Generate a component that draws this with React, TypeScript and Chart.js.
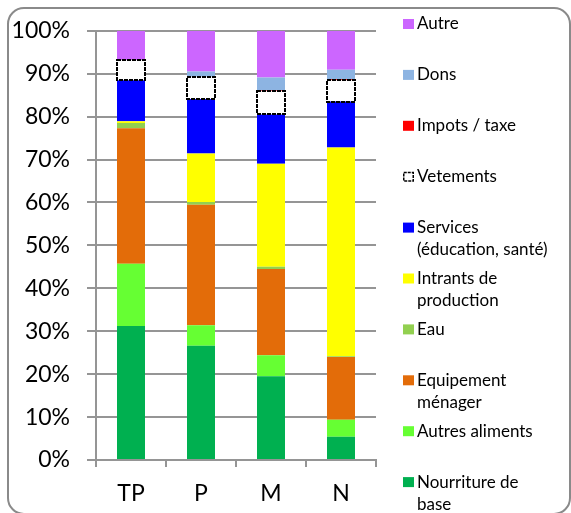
import React, { useEffect, useRef } from "react";
import { Chart, registerables } from "chart.js";

Chart.register(...registerables);

const categories = ["TP", "P", "M", "N"];
const yTicks = [0, 10, 20, 30, 40, 50, 60, 70, 80, 90, 100];

const nourritureDeBase = [31.2, 26.6, 19.5, 5.4];
const autresAliments = [14.5, 4.8, 4.9, 4.0];
const equipementMenager = [31.6, 28.1, 20.1, 14.6];
const eau = [1.2, 0.6, 0.5, 0.2];
const intrantsDeProduction = [0.4, 11.3, 24.0, 48.6];
const services = [9.6, 12.7, 11.5, 10.7];
const vetements = [4.7, 5.2, 5.4, 5.0];
const impotsTaxe = [0, 0, 0.2, 0.2];
const dons = [0, 1.2, 3.0, 2.2];
const autre = [6.8, 9.5, 10.9, 9.1];

const seriesDefs = [
  { label: ["Nourriture de", "base"], data: nourritureDeBase, color: "#00B050" },
  { label: ["Autres aliments"], data: autresAliments, color: "#66FF33" },
  { label: ["Equipement", "ménager"], data: equipementMenager, color: "#E36C09" },
  { label: ["Eau"], data: eau, color: "#92D050" },
  { label: ["Intrants de", "production"], data: intrantsDeProduction, color: "#FFFF00" },
  { label: ["Services", "(éducation, santé)"], data: services, color: "#0000FF" },
  { label: ["Vetements"], data: vetements, color: "#FFFFFF", outline: true },
  { label: ["Impots / taxe"], data: impotsTaxe, color: "#FF0000" },
  { label: ["Dons"], data: dons, color: "#8DB4E2" },
  { label: ["Autre"], data: autre, color: "#CC66FF" },
];

const GRID = "#959595";
const FONT = "Lato";

const frameAndLegend = {
  id: "frameAndLegend",
  beforeDraw(chart: any) {
    const ctx = chart.ctx;
    ctx.save();
    ctx.fillStyle = "#ffffff";
    ctx.fillRect(0, 0, chart.width, chart.height);
    ctx.restore();
  },
  afterDatasetsDraw(chart: any) {
    const ctx = chart.ctx;
    chart.data.datasets.forEach((ds: any, i: number) => {
      if (!ds._outline) return;
      const meta = chart.getDatasetMeta(i);
      meta.data.forEach((bar: any, j: number) => {
        if (!ds.data[j]) return;
        const p = bar.getProps(["x", "y", "base", "width"], true);
        const l = Math.round(p.x - p.width / 2);
        const r = Math.round(p.x + p.width / 2);
        const top = Math.round(Math.min(p.y, p.base));
        const bot = Math.round(Math.max(p.y, p.base));
        ctx.save();
        ctx.strokeStyle = "#000000";
        ctx.lineWidth = 2;
        ctx.setLineDash([4, 1]);
        ctx.strokeRect(l, top, r - l, bot - top);
        ctx.restore();
      });
    });
  },
  afterDraw(chart: any) {
    const ctx = chart.ctx;
    const area = chart.chartArea;
    ctx.save();
    const x0 = area.right + 27;
    const y0 = 24;
    const pitch = 50.9;
    const lineH = 22;
    ctx.font = `17px ${FONT}`;
    ctx.textBaseline = "middle";
    ctx.textAlign = "left";
    const items = chart.data.datasets.slice().reverse();
    items.forEach((ds: any, k: number) => {
      const cy = y0 + k * pitch;
      if (ds._outline) {
        ctx.fillStyle = "#ffffff";
        ctx.fillRect(x0, cy - 5, 11, 10);
        ctx.strokeStyle = "#000";
        ctx.lineWidth = 1.5;
        ctx.setLineDash([3, 1]);
        ctx.strokeRect(x0 + 0.75, cy - 4.25, 9.5, 8.5);
        ctx.setLineDash([]);
      } else {
        ctx.fillStyle = ds.backgroundColor;
        ctx.fillRect(x0, cy - 5, 11, 10);
      }
      ctx.fillStyle = "#000000";
      ds._legend.forEach((t: string, li: number) => {
        ctx.fillText(t, x0 + 14, cy + li * lineH);
      });
    });
    ctx.strokeStyle = "#8a8a8a";
    ctx.lineWidth = 2;
    ctx.beginPath();
    ctx.roundRect(8, 8, 562, 506, 16);
    ctx.stroke();
    ctx.restore();
  },
};

export default function App() {
  const ref = useRef<HTMLCanvasElement | null>(null);
  useEffect(() => {
    if (!ref.current) return;
    const chart = new Chart(ref.current, {
      type: "bar",
      data: {
        labels: categories,
        datasets: seriesDefs.map((s) => ({
          label: s.label.join(" "),
          data: s.data,
          backgroundColor: s.color,
          borderWidth: 0,
          categoryPercentage: 1,
          barPercentage: 0.4,
          _outline: !!s.outline,
          _legend: s.label,
        })) as any,
      },
      options: {
        responsive: false,
        animation: false,
        events: [],
        layout: { padding: { left: 0, top: 30, right: 195, bottom: 0 } },
        plugins: {
          legend: { display: false },
          tooltip: { enabled: false },
          title: { display: false },
        },
        scales: {
          x: {
            stacked: true,
            grid: {
              display: true,
              drawOnChartArea: false,
              drawTicks: true,
              tickLength: 7,
              color: GRID,
              lineWidth: 2,
              offset: true,
            },
            border: { display: true, color: GRID, width: 2 },
            ticks: {
              color: "#000",
              padding: 13,
              font: { family: FONT, size: 23 },
            },
            afterFit: (s: any) => {
              s.height = 53;
            },
          },
          y: {
            stacked: true,
            min: 0,
            max: 100,
            afterBuildTicks: (s: any) => {
              s.ticks = yTicks.map((v) => ({ value: v }));
            },
            grid: {
              color: GRID,
              lineWidth: 2,
              drawTicks: true,
              tickLength: 9,
            },
            border: { display: true, color: GRID, width: 2 },
            ticks: {
              color: "#000",
              padding: 17,
              font: { family: FONT, size: 23 },
              callback: (v: any) => `${v}%`,
            },
            afterFit: (s: any) => {
              s.width = 96;
            },
          },
        },
      },
      plugins: [frameAndLegend],
    });
    return () => chart.destroy();
  }, []);
  return (
    <div style={{ position: "fixed", left: 0, top: 0, width: 571, height: 513, background: "#fff" }}>
      <canvas ref={ref} width={571} height={513} style={{ display: "block" }} />
    </div>
  );
}
